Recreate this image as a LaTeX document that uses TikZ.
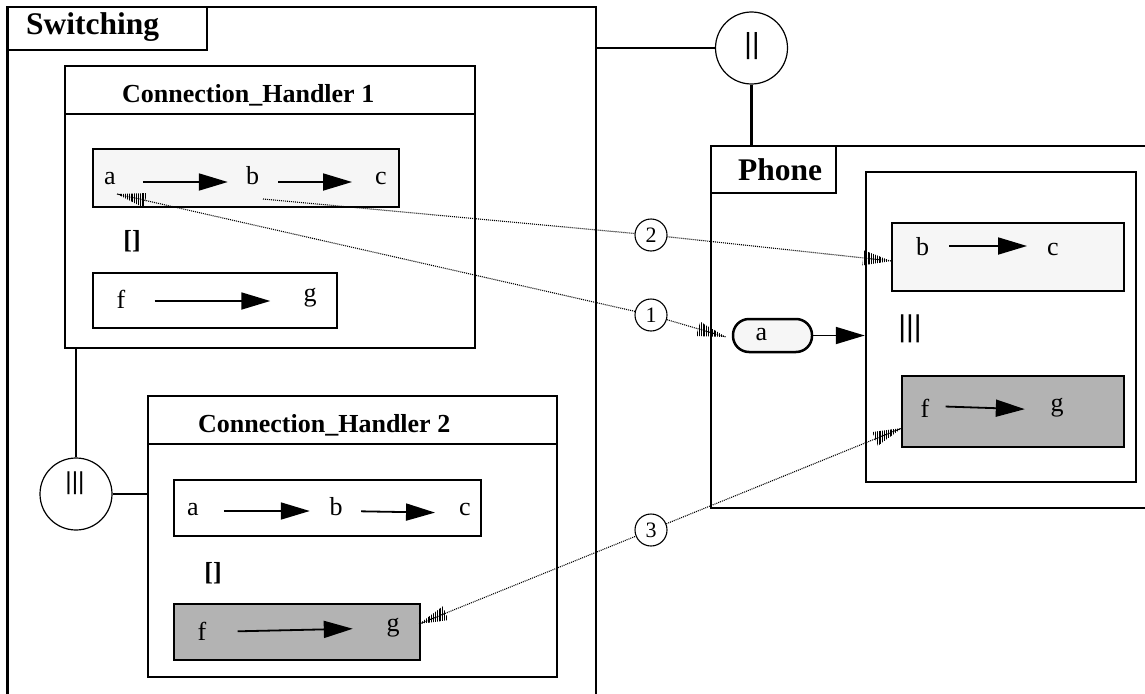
\documentclass[tikz,border=0pt]{standalone}
\usepackage{fontspec}
\setmainfont{Liberation Serif}
\newfontfamily\barfont{Liberation Sans}
\usetikzlibrary{arrows.meta,calc,fit,patterns.meta}

\definecolor{paleFill}{HTML}{F6F6F6}
\definecolor{midFill}{HTML}{B3B3B3}

% hatched arrow head: tip at #1, pointing away from #2
\newcommand\hatchhead[2]{%
  \fill[hatch] (#1) -- ($(#1)!29pt!(#2)!7.5pt!90:(#1)$)
                    -- ($(#1)!29pt!(#2)!7.5pt!-90:(#1)$) -- cycle;}

\tikzset{
  frame/.style={draw, line width=2.5pt, inner sep=0pt},
  litebox/.style={frame, fill=paleFill},
  darkbox/.style={frame, fill=midFill},
  plainbox/.style={frame, fill=white},
  pill/.style={draw, line width=2.5pt, fill=paleFill, rounded corners=16pt,
    minimum width=79pt, minimum height=33pt, inner sep=0pt},
  opcirc/.style={circle, draw, line width=1.2pt, minimum size=72pt, inner sep=0pt, fill=white},
  tagcirc/.style={circle, draw, line width=1.1pt, minimum size=32pt, inner sep=0pt,
    fill=white, font=\fontsize{22}{24}\selectfont},
  bigtitle/.style={anchor=base west, inner sep=0pt, font=\fontsize{31.5}{36}\selectfont\bfseries},
  subtitle/.style={anchor=base west, inner sep=0pt, font=\fontsize{26}{30}\selectfont\bfseries},
  evt/.style={anchor=base, inner sep=0pt, font=\fontsize{26}{30}\selectfont},
  choice/.style={anchor=base, inner sep=0pt, font=\fontsize{26}{30}\selectfont\bfseries},
  bars/.style={inner sep=0pt, font=\barfont\fontsize{29}{32}\selectfont},
  flow/.style={-{Triangle[length=29pt,width=17pt]}, line width=1.8pt},
  link/.style={line width=2.6pt},
  trace/.style={line width=1.1pt, dash pattern=on 1pt off 1pt},
  hatch/.style={pattern={Lines[angle=90,distance=2.2pt,line width=1.1pt]}},
}

\begin{document}
\begin{tikzpicture}[x=1pt,y=-1pt]
\useasboundingbox (0,0) rectangle (1145,693);
\clip (0,0) rectangle (1145,693);

% ---------- Switching ----------
\node[frame, fit={(7.5,7) (596,720)}] (sw) {};
\node[frame, fit={(7.5,7) (207,50)}] (swt) {};
\node[bigtitle] (swl) at (26,35) {Switching};

% Connection_Handler 1
\node[frame, fit={(65,66) (475,348)}] (ch1) {};
\node[frame, fit={(65,66) (475,114)}] (ch1t) {};
\node[subtitle] (ch1l) at (122,102) {Connection\_Handler 1};
\node[litebox, fit={(93,149) (399,207)}] (h1top) {};
\node[plainbox, fit={(93,273) (337,328)}] (h1bot) {};
\node[evt] (h1a) at (110,184) {a};
\node[evt] (h1b) at (252.5,184) {b};
\node[evt] (h1c) at (381,184) {c};
\node[choice] (h1or) at (132,248) {[]};
\node[evt] (h1f) at (121,308) {f};
\node[evt] (h1g) at (310,301) {g};
\draw[flow, shorten <=27pt, shorten >=18pt] ([yshift=2pt]h1a.base east) -- ([yshift=2pt]h1b.base west);
\draw[flow, shorten <=19pt, shorten >=23pt] ([yshift=2pt]h1b.base east) -- ([yshift=2pt]h1c.base west);
\draw[flow, shorten <=29pt, shorten >=33pt] ([yshift=7pt]h1f.base east) -- (h1g.base west);

% Connection_Handler 2
\node[frame, fit={(148,396) (557,677)}] (ch2) {};
\node[frame, fit={(148,396) (557,444)}] (ch2t) {};
\node[subtitle] (ch2l) at (198,432) {Connection\_Handler 2};
\node[plainbox, fit={(174,480) (481,536)}] (h2top) {};
\node[darkbox, fit={(174,604) (420,660)}] (h2bot) {};
\node[evt] (h2a) at (193,515) {a};
\node[evt] (h2b) at (336,515) {b};
\node[evt] (h2c) at (465,515) {c};
\node[choice] (h2or) at (213,580) {[]};
\node[evt] (h2f) at (202,640) {f};
\node[evt] (h2g) at (393,631) {g};
\draw[flow, shorten <=25pt, shorten >=19.5pt] ([yshift=4pt]h2a.base east) -- ([yshift=4pt]h2b.base west);
\draw[flow, shorten <=18.5pt, shorten >=24pt] ([yshift=4pt]h2b.base east) -- ([yshift=2pt]h2c.base west);
\draw[flow, shorten <=31pt, shorten >=33.5pt] ([yshift=8pt]h2f.base east) -- ([yshift=3pt]h2g.base west);

% interleaving operator between the handlers
\node[opcirc] (ppar) at (76,494) {};
\node[bars, font=\barfont\fontsize{24.5}{28}\selectfont] (pparl) at (75,483.5) {|||};
\draw[link] (ppar.north) -- (ppar.north |- ch1.south);
\draw[link] (ppar.east) -- (ppar.east -| ch2.west);

% ---------- Phone ----------
\node[frame, fit={(711,146) (1170,508)}] (phone) {};
\node[frame, fit={(711,146) (836,193)}] (phonet) {};
\node[bigtitle] (phonel) at (738,180) {Phone};
\node[frame, fit={(866,172) (1136,482)}] (pin) {};
\node[litebox, fit={(892,223) (1124,291)}] (pbc) {};
\node[darkbox, fit={(902,376) (1124,447)}] (pfg) {};
\node[evt] (pb) at (922.5,255) {b};
\node[evt] (pc) at (1053,255) {c};
\node[evt] (pf) at (925,417) {f};
\node[evt] (pg) at (1057,411) {g};
\node[bars, font=\barfont\fontsize{30}{33}\selectfont] (pinl) at (910,329) {|||};
\draw[flow, shorten <=20pt, shorten >=20pt] ([yshift=9pt]pb.base east) -- ([yshift=9pt]pc.base west);
\draw[flow, shorten <=16pt, shorten >=25.5pt] ([yshift=11pt]pf.base east) -- ([yshift=1pt]pg.base west);
\node[pill] (pa) at (772.5,335.5) {};
\node[evt] (pal) at (761.5,340) {a};
\draw[flow] (pa.east) -- (pa.east -| pin.west);

% parallel operator between Switching and Phone
\node[opcirc] (par) at (751.5,48) {};
\node[bars] (parl) at (752,46.5) {||};
\draw[link] (sw.east |- par.west) -- (par.west);
\draw[link] (par.south) -- (par.south |- phone.north);

% ---------- numbered traces ----------
\node[tagcirc] (c2) at (651,235) {2};
\node[tagcirc] (c1) at (651,315) {1};
\node[tagcirc] (c3) at (651,530) {3};

\coordinate (t1a) at (117,194);
\coordinate (t1b) at (726,337);
\coordinate (s2)  at (263,199);
\coordinate (t2)  at (892,261);
\coordinate (t3a) at (419,624);
\coordinate (t3b) at (902,428);

\draw[trace] (t1a) -- (c1);
\draw[trace] (c1) -- (t1b);
\draw[trace] (s2) -- (c2);
\draw[trace] (c2) -- (t2);
\draw[trace] (t3a) -- (c3);
\draw[trace] (c3) -- (t3b);

\hatchhead{t1a}{c1}
\hatchhead{t1b}{c1}
\hatchhead{t2}{c2}
\hatchhead{t3a}{c3}
\hatchhead{t3b}{c3}
\end{tikzpicture}
\end{document}
